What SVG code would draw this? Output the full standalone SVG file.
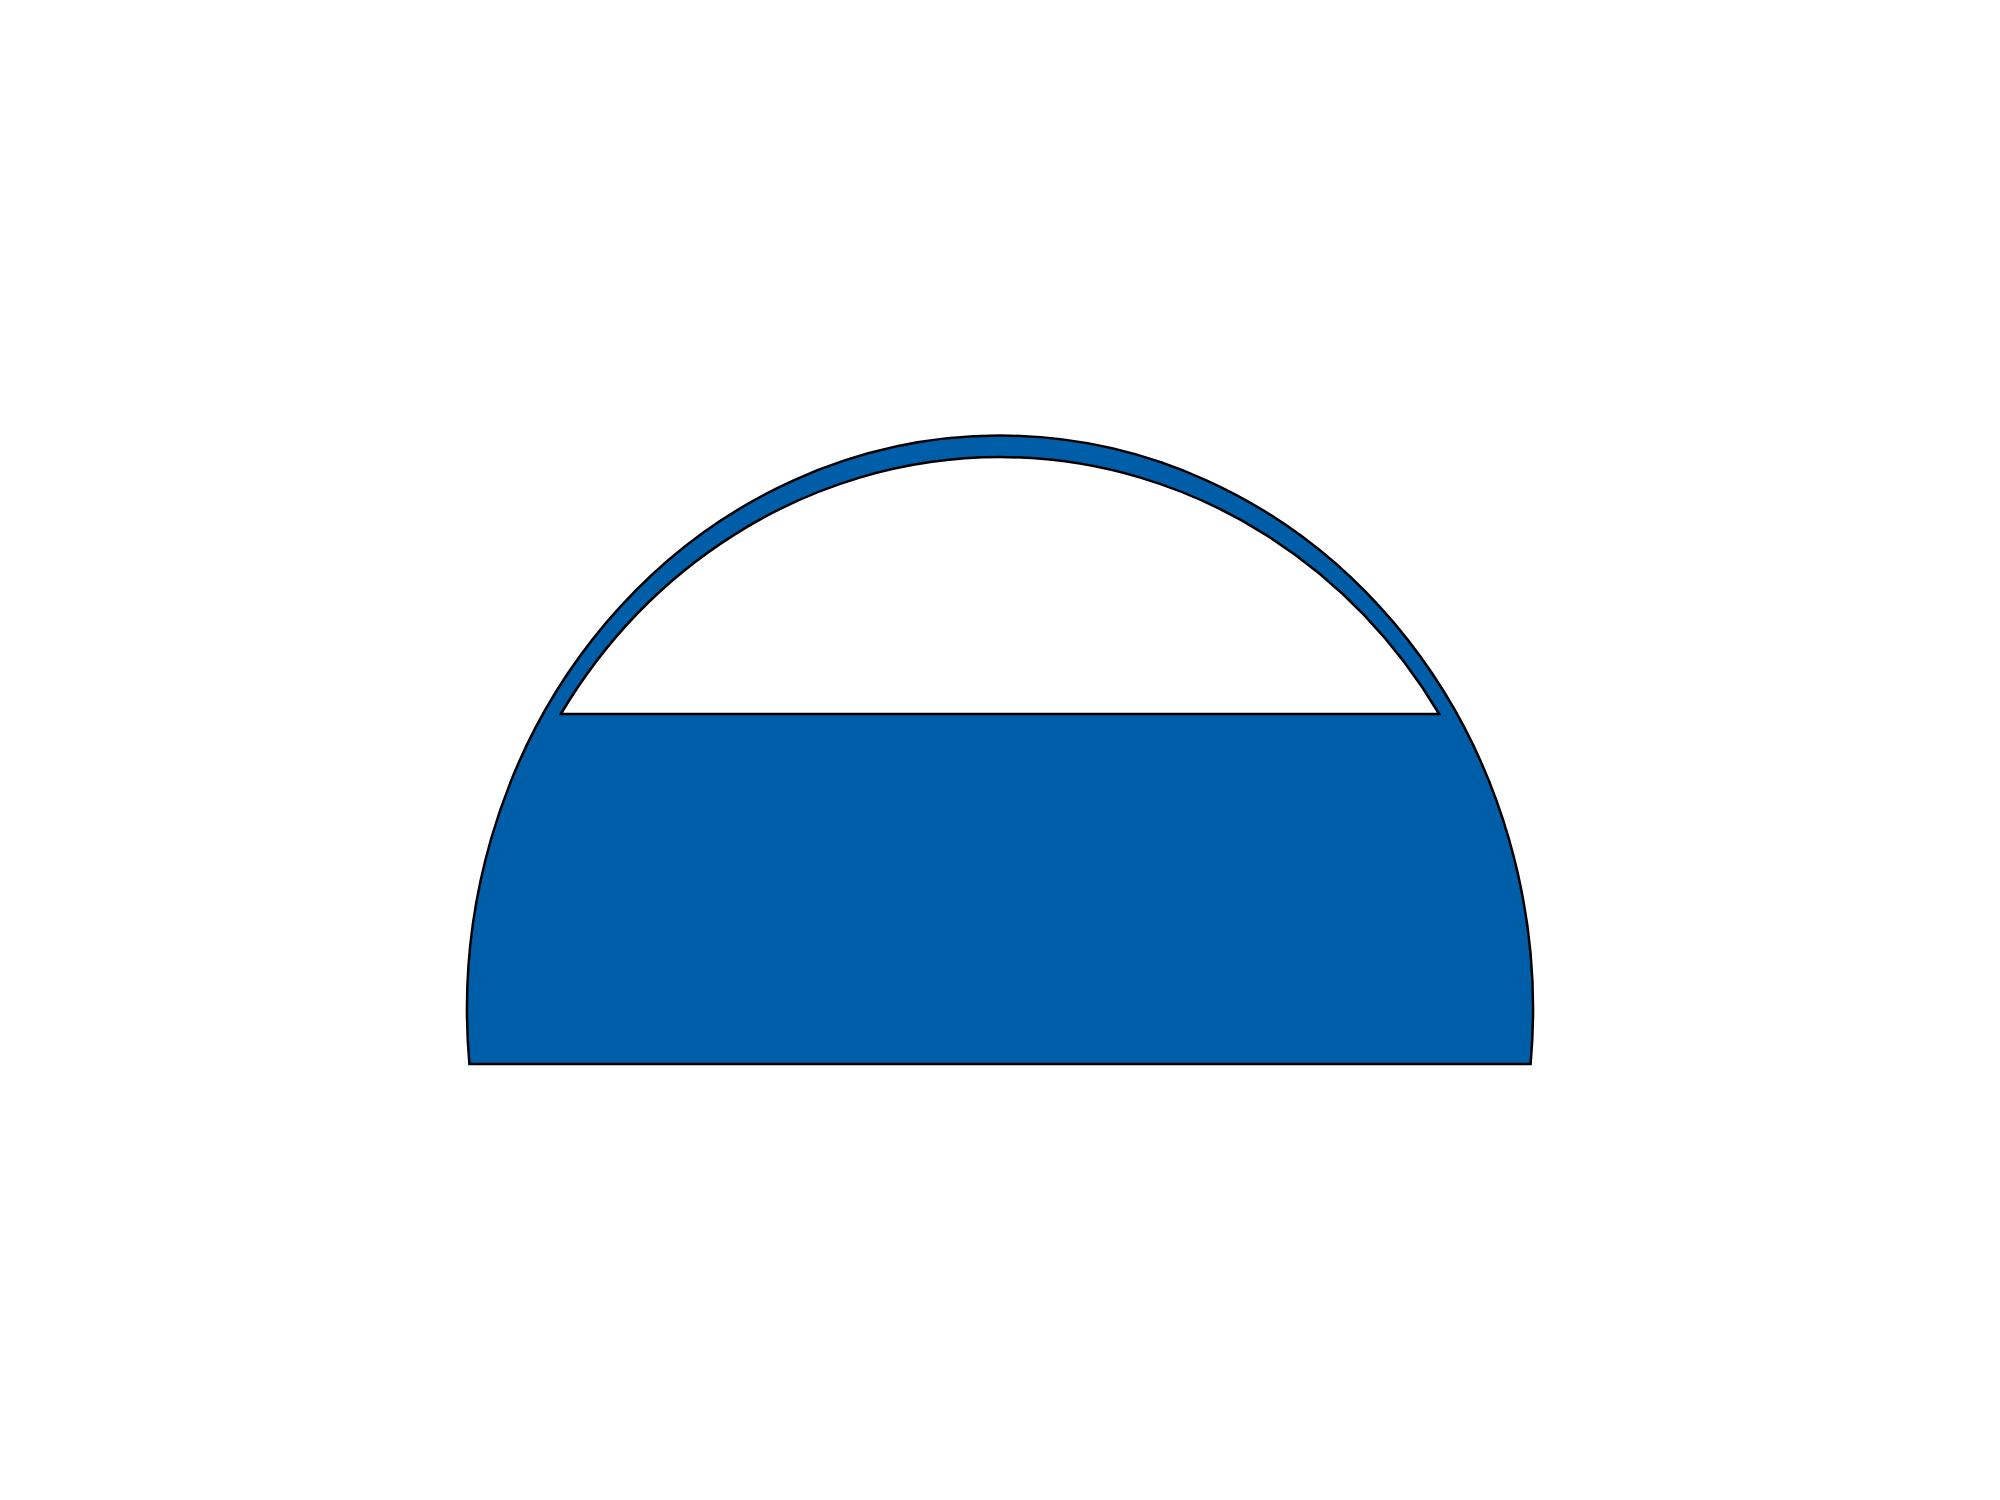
<svg xmlns="http://www.w3.org/2000/svg" width="2000" height="1500" viewBox="0 0 2000 1500">
<style>
.shape{stroke:#000;stroke-width:2.5;stroke-linejoin:miter}
.blue{fill:#005ea8}
.white{fill:#fff}
</style>
<rect width="2000" height="1500" fill="#fff"/>
<g id="dome">
<path class="shape blue" d="M469.4,1064 A533,574 0 1 1 1530.6,1064 Z"/>
<path class="shape white" d="M560.8,714 A520,553 0 0 1 1439.2,714 Z"/>
</g>
</svg>
